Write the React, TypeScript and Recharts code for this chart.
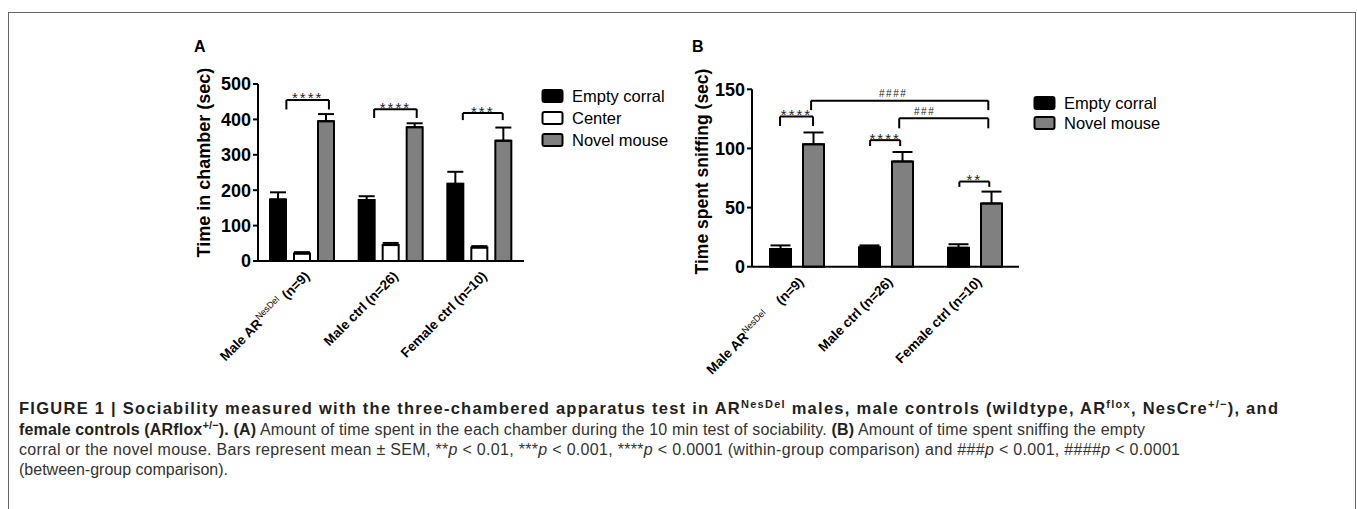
import React from 'react'
import { BarChart, Bar, XAxis, YAxis, ErrorBar, ReferenceLine, ReferenceDot, Legend } from 'recharts'

const font = 'Liberation Sans, Arial, sans-serif'

// groups on the x axis
const groupNames = ['Male AR', 'Male ctrl', 'Female ctrl']
const groupSups = ['NesDel', '', '']
const groupNs = ['(n=9)', '(n=26)', '(n=10)']

// panel A - time in chamber (sec), mean and SEM
const emptyA = [174, 172, 218]
const emptyErrA = [20, 11, 34]
const centerA = [21, 45, 38]
const centerErrA = [4, 6, 4]
const novelA = [395, 378, 340]
const novelErrA = [20, 11, 37]
const ticksA = [0, 100, 200, 300, 400, 500]

// panel B - time spent sniffing (sec), mean and SEM
const emptyB = [15, 16.5, 16]
const emptyErrB = [3, 1.5, 3]
const novelB = [103.5, 89, 53.5]
const novelErrB = [10, 8, 10]
const ticksB = [0, 50, 100, 150]

// legend entries
const seriesA = [
    { name: 'Empty corral', fill: '#000' },
    { name: 'Center', fill: '#fff' },
    { name: 'Novel mouse', fill: '#808080' },
]
const seriesB = [seriesA[0], seriesA[2]]

// significance brackets, x in group units (0..3), y in axis units
const bracketsA = [
    { x1: 0.32, x2: 0.8, y: 455, drop: 27, text: '****' },
    { x1: 1.31, x2: 1.79, y: 429, drop: 25, text: '****' },
    { x1: 2.31, x2: 2.76, y: 418, drop: 20, text: '***' },
]
const bracketsB = [
    { x1: 0.315, x2: 0.686, y: 127, drop: 8, text: '****' },
    { x1: 1.327, x2: 1.665, y: 107, drop: 5, text: '****' },
    { x1: 2.33, x2: 2.666, y: 72, drop: 4.5, text: '**' },
    { x1: 0.664, x2: 2.655, y: 140.4, drop: 8, text: '####', tx: 1.586 },
    { x1: 1.654, x2: 2.655, y: 125.5, drop: 8.5, text: '###', tx: 1.94 },
]

const dataA = groupNames.map((name, i) => ({
    name, pos: i + 0.5,
    empty: emptyA[i], emptyErr: [0, emptyErrA[i]],
    center: centerA[i], centerErr: [0, centerErrA[i]],
    novel: novelA[i], novelErr: [0, novelErrA[i]],
}))

const dataB = groupNames.map((name, i) => ({
    name, pos: i + 0.5,
    empty: emptyB[i], emptyErr: [0, emptyErrB[i]],
    novel: novelB[i], novelErr: [0, novelErrB[i]],
}))

function makeTick(dx: number, dy: number, gap: number) {
    return (props: any) => {
        const { x, y, index } = props
        const sup = groupSups[index]
        return (
            <g transform={`translate(${x + dx},${y + dy})`}>
                <text transform="rotate(-45)" textAnchor="end" fontSize={13.5} fontWeight="bold" fill="#000" fontFamily={font}>
                    {groupNames[index]}
                    {sup ? <tspan fontSize={9} fontWeight="normal" dy={-5.5}>{sup}</tspan> : null}
                    {sup
                        ? <tspan dy={5.5} dx={gap}>{groupNs[index]}</tspan>
                        : <tspan>{' ' + groupNs[index]}</tspan>}
                </text>
            </g>
        )
    }
}

function yLabel(text: string, dx: number, dy: number, size: number) {
    return (props: any) => {
        const vb = props.viewBox
        const cx = vb.x + dx
        const cy = vb.y + vb.height / 2 + dy
        return (
            <text x={cx} y={cy} transform={`rotate(-90, ${cx}, ${cy})`} textAnchor="middle" dominantBaseline="central"
                fontSize={size} fontWeight="bold" fill="#000" fontFamily={font}>{text}</text>
        )
    }
}

function makeLegend(series: any[], rowH: number) {
    return () => (
        <div style={{ fontFamily: font }}>
            {series.map((s) => (
                <div key={s.name} style={{ display: 'flex', alignItems: 'center', height: rowH }}>
                    <svg width={24} height={16}>
                        <rect x={1.5} y={2} width={20} height={12} rx={2} fill={s.fill} stroke="#000" strokeWidth={2} />
                    </svg>
                    <span style={{ marginLeft: 7, fontSize: 16.5, color: '#000' }}>{s.name}</span>
                </div>
            ))}
        </div>
    )
}

function brackets(list: any[]) {
    const out: any[] = []
    list.forEach((b, i) => {
        const seg = { xAxisId: 'n', stroke: '#000', strokeWidth: 2, ifOverflow: 'visible' as const }
        out.push(<ReferenceLine key={`t${i}`} {...seg} segment={[{ x: b.x1, y: b.y }, { x: b.x2, y: b.y }]} />)
        out.push(<ReferenceLine key={`l${i}`} {...seg} segment={[{ x: b.x1, y: b.y }, { x: b.x1, y: b.y - b.drop }]} />)
        out.push(<ReferenceLine key={`r${i}`} {...seg} segment={[{ x: b.x2, y: b.y }, { x: b.x2, y: b.y - b.drop }]} />)
        const isHash = b.text.startsWith('#')
        out.push(
            <ReferenceDot key={`d${i}`} xAxisId="n" x={b.tx ?? (b.x1 + b.x2) / 2} y={b.y} r={0} ifOverflow="visible"
                shape={(p: any) => (
                    <text x={p.cx} y={isHash ? p.cy - 3.5 : p.cy + 3.5} textAnchor="middle" fontFamily={font}
                        fontSize={isHash ? 10 : 15} letterSpacing={isHash ? 1.5 : 2} fill="#222">{b.text}</text>
                )} />
        )
    })
    return out
}

const axisStyle = { stroke: '#000', strokeWidth: 2 }
const yTick = { fontSize: 18, fontWeight: 'bold', fill: '#000', fontFamily: font }
const supStyle = { fontSize: 11 }

export default function App() {
    return (
        <div style={{ position: 'absolute', left: 0, top: 0, width: 1357, height: 509, overflow: 'hidden', background: '#fff', fontFamily: font }}>
            <div style={{ position: 'absolute', left: 8, top: 12, width: 1346, height: 600, border: '1px solid #666' }} />

            <div style={{ position: 'absolute', left: 194, top: 38, fontSize: 16, fontWeight: 'bold' }}>A</div>
            <div style={{ position: 'absolute', left: 692, top: 38, fontSize: 16, fontWeight: 'bold' }}>B</div>

            <div style={{ position: 'absolute', left: 150, top: 55 }}>
                <BarChart width={560} height={330} data={dataA} margin={{ top: 29, right: 186, bottom: 0, left: 0 }}
                    barSize={16} barGap={8}>
                    <XAxis dataKey="name" axisLine={axisStyle} tickLine={false} tickSize={0} tickMargin={0} interval={0}
                        height={124} tick={makeTick(8, 16, 5)} />
                    <XAxis xAxisId="n" dataKey="pos" type="number" domain={[0, 3]} allowDataOverflow hide />
                    <YAxis domain={[0, 500]} ticks={ticksA} width={108} axisLine={axisStyle}
                        tickLine={axisStyle} tickSize={5} tickMargin={2} tick={yTick}
                        label={yLabel('Time in chamber (sec)', 53.5, -10, 18)} />
                    <Legend layout="horizontal" verticalAlign="middle" align="center" content={makeLegend(seriesA, 22)}
                        wrapperStyle={{ left: 391, top: 30, width: 170 }} />
                    <Bar dataKey="empty" name="Empty corral" fill="#000" stroke="#000" strokeWidth={2} isAnimationActive={false}>
                        <ErrorBar dataKey="emptyErr" width={8} stroke="#000" strokeWidth={2} />
                    </Bar>
                    <Bar dataKey="center" name="Center" fill="#fff" stroke="#000" strokeWidth={2} isAnimationActive={false}>
                        <ErrorBar dataKey="centerErr" width={8} stroke="#000" strokeWidth={2} />
                    </Bar>
                    <Bar dataKey="novel" name="Novel mouse" fill="#808080" stroke="#000" strokeWidth={2} isAnimationActive={false}>
                        <ErrorBar dataKey="novelErr" width={8} stroke="#000" strokeWidth={2} />
                    </Bar>
                    {brackets(bracketsA)}
                </BarChart>
            </div>

            <div style={{ position: 'absolute', left: 680, top: 55 }}>
                <BarChart width={540} height={335} data={dataB} margin={{ top: 34.3, right: 201, bottom: 0, left: 0 }}
                    barSize={21} barGap={12}>
                    <XAxis dataKey="name" axisLine={axisStyle} tickLine={false} tickSize={0} tickMargin={0} interval={0}
                        height={123.3} tick={makeTick(8, 16, 16)} />
                    <XAxis xAxisId="n" dataKey="pos" type="number" domain={[0, 3]} allowDataOverflow hide />
                    <YAxis domain={[0, 150]} ticks={ticksB} width={72} axisLine={axisStyle}
                        tickLine={axisStyle} tickSize={5} tickMargin={2} tick={yTick}
                        label={yLabel('Time spent sniffing (sec)', 21.5, -6.5, 17.5)} />
                    <Legend layout="horizontal" verticalAlign="middle" align="center" content={makeLegend(seriesB, 20)}
                        wrapperStyle={{ left: 353, top: 38, width: 170 }} />
                    <Bar dataKey="empty" name="Empty corral" fill="#000" stroke="#000" strokeWidth={2} isAnimationActive={false}>
                        <ErrorBar dataKey="emptyErr" width={10} stroke="#000" strokeWidth={2} />
                    </Bar>
                    <Bar dataKey="novel" name="Novel mouse" fill="#808080" stroke="#000" strokeWidth={2} isAnimationActive={false}>
                        <ErrorBar dataKey="novelErr" width={10} stroke="#000" strokeWidth={2} />
                    </Bar>
                    {brackets(bracketsB)}
                </BarChart>
            </div>

            <svg width={1357} height={100} style={{ position: 'absolute', left: 0, top: 395 }} fontFamily={font} fontSize={16}>
                <text x={19} y={18.5} textLength={1259} lengthAdjust="spacing" fontWeight="bold" fill="#231f20" fontSize={16.5}>
                    FIGURE 1 | Sociability measured with the three-chambered apparatus test in AR<tspan dy={-6} {...supStyle}>NesDel</tspan><tspan dy={6}> males, male controls (wildtype, AR</tspan><tspan dy={-6} {...supStyle}>flox</tspan><tspan dy={6}>, NesCre</tspan><tspan dy={-6} {...supStyle}>+/−</tspan><tspan dy={6}>), and</tspan>
                </text>
                <text x={19} y={39.5} textLength={1126} lengthAdjust="spacing" fill="#333">
                    <tspan fontWeight="bold" fill="#231f20">female controls (ARflox</tspan><tspan dy={-6} fontWeight="bold" fill="#231f20" {...supStyle}>+/−</tspan><tspan dy={6} fontWeight="bold" fill="#231f20">). (A)</tspan> Amount of time spent in the each chamber during the 10 min test of sociability. <tspan fontWeight="bold" fill="#231f20">(B)</tspan> Amount of time spent sniffing the empty
                </text>
                <text x={19} y={59.5} textLength={1161} lengthAdjust="spacing" fill="#333">
                    corral or the novel mouse. Bars represent mean ± SEM, **<tspan fontStyle="italic">p</tspan> &lt; 0.01, ***<tspan fontStyle="italic">p</tspan> &lt; 0.001, ****<tspan fontStyle="italic">p</tspan> &lt; 0.0001 (within-group comparison) and ###<tspan fontStyle="italic">p</tspan> &lt; 0.001, ####<tspan fontStyle="italic">p</tspan> &lt; 0.0001
                </text>
                <text x={19} y={79.5} fill="#333">(between-group comparison).</text>
            </svg>
        </div>
    )
}
